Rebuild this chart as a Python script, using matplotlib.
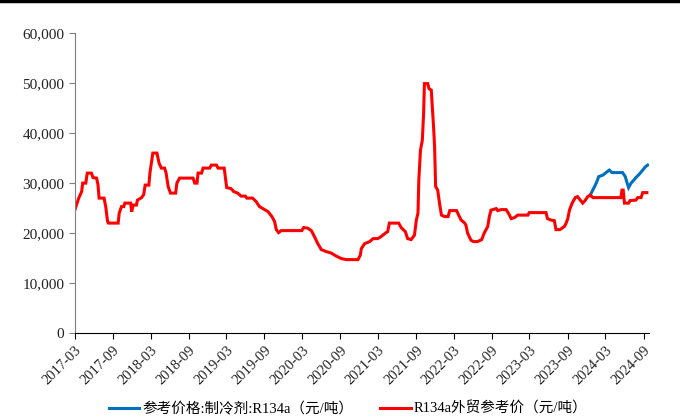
import matplotlib
matplotlib.use("Agg")
import matplotlib.pyplot as plt
import matplotlib.dates as mdates
from matplotlib.lines import Line2D
import pandas as pd

# R134a export reference price (yuan/ton)
red_dates = [
    "2017-03-01", "2017-03-09", "2017-03-20", "2017-04-03", "2017-04-08", "2017-04-23",
    "2017-04-30", "2017-05-20", "2017-05-28", "2017-06-14", "2017-06-21", "2017-06-26",
    "2017-07-20", "2017-07-28", "2017-08-06", "2017-08-10", "2017-09-26", "2017-10-01",
    "2017-10-12", "2017-10-23", "2017-10-28", "2017-11-25", "2017-11-30", "2017-12-07",
    "2017-12-23", "2017-12-28", "2018-01-17", "2018-01-27", "2018-02-03", "2018-02-21",
    "2018-02-26", "2018-03-05", "2018-03-12", "2018-04-01", "2018-04-11", "2018-04-22",
    "2018-05-08", "2018-05-15", "2018-05-25", "2018-06-05", "2018-06-30", "2018-07-06",
    "2018-07-19", "2018-09-22", "2018-09-30", "2018-10-11", "2018-10-16", "2018-11-02",
    "2018-11-09", "2018-12-11", "2018-12-19", "2019-01-13", "2019-01-20", "2019-02-19",
    "2019-02-25", "2019-03-03", "2019-03-24", "2019-04-06", "2019-04-25", "2019-05-11",
    "2019-06-01", "2019-06-08", "2019-07-06", "2019-07-23", "2019-08-08", "2019-09-02",
    "2019-09-18", "2019-10-07", "2019-10-20", "2019-10-28", "2019-11-08", "2019-11-21",
    "2020-02-28", "2020-03-08", "2020-03-27", "2020-04-14", "2020-04-29", "2020-05-15",
    "2020-06-01", "2020-06-25", "2020-07-19", "2020-08-12", "2020-09-06", "2020-09-30",
    "2020-11-25", "2020-12-06", "2020-12-11", "2020-12-27", "2021-01-20", "2021-02-06",
    "2021-02-28", "2021-03-16", "2021-04-06", "2021-04-17", "2021-04-25", "2021-06-09",
    "2021-06-21", "2021-07-11", "2021-07-22", "2021-08-08", "2021-08-24", "2021-09-02",
    "2021-09-10", "2021-09-14", "2021-09-22", "2021-10-01", "2021-10-07", "2021-10-11",
    "2021-10-27", "2021-11-02", "2021-11-13", "2021-11-18", "2021-11-24", "2021-11-29",
    "2021-12-04", "2021-12-14", "2021-12-23", "2022-01-01", "2022-01-17", "2022-02-02",
    "2022-02-10", "2022-03-15", "2022-03-25", "2022-04-06", "2022-04-21", "2022-04-29",
    "2022-05-07", "2022-05-23", "2022-06-04", "2022-06-24", "2022-07-14", "2022-07-26",
    "2022-08-12", "2022-08-20", "2022-08-28", "2022-09-22", "2022-09-29", "2022-10-16",
    "2022-11-09", "2022-11-25", "2022-12-03", "2022-12-19", "2023-01-04", "2023-02-22",
    "2023-02-28", "2023-05-20", "2023-05-27", "2023-06-13", "2023-06-29", "2023-07-07",
    "2023-07-26", "2023-08-16", "2023-08-24", "2023-09-02", "2023-09-10", "2023-09-23",
    "2023-10-08", "2023-10-19", "2023-11-01", "2023-11-13", "2023-11-26", "2023-12-07",
    "2023-12-19", "2024-01-01", "2024-05-15", "2024-05-20", "2024-05-26", "2024-06-01",
    "2024-06-21", "2024-06-28", "2024-07-26", "2024-08-04", "2024-08-20", "2024-08-28",
    "2024-09-17",
]
red_values = [
    24600, 25600, 27000, 28300, 30000, 30000,
    32000, 32000, 31100, 31000, 29600, 27000,
    27000, 25300, 22300, 22000, 22000, 24000,
    25300, 25300, 26000, 26000, 24300, 25600,
    25600, 26600, 27100, 27700, 29600, 29600,
    32000, 34000, 36000, 36000, 34000, 33000,
    33000, 32000, 29300, 28000, 28000, 30000,
    31000, 31000, 30000, 30000, 32000, 32000,
    33000, 33000, 33600, 33600, 33000, 33000,
    31000, 29100, 28900, 28300, 28000, 27400,
    27400, 27000, 27000, 26300, 25300, 24700,
    24300, 23300, 22300, 20700, 20100, 20500,
    20500, 21100, 21000, 20500, 19300, 17900,
    16700, 16300, 16000, 15400, 14900, 14700,
    14700, 15600, 16900, 17900, 18300, 18900,
    18900, 19300, 20000, 20300, 22000, 22000,
    21100, 20300, 18900, 18700, 19600, 22600,
    24000, 30600, 36600, 38600, 43900, 49900,
    49900, 48900, 48600, 45300, 41300, 37300,
    29300, 28600, 25900, 23600, 23300, 23300,
    24500, 24500, 23600, 22600, 22100, 21600,
    20000, 18600, 18300, 18300, 18700, 20000,
    21300, 23300, 24600, 24900, 24500, 24700,
    24700, 23600, 22900, 23100, 23600, 23600,
    24100, 24100, 22900, 22600, 22500, 20700,
    20700, 21300, 21900, 22900, 24600, 26000,
    27100, 27300, 26600, 26000, 26600, 27300,
    27600, 27100, 27100, 28600, 28600, 26000,
    26000, 26500, 26600, 27100, 27100, 28100,
    28100,
]

# reference price: refrigerant R134a (yuan/ton), where it parts from the red line
blue_dates = [
    "2023-12-19", "2024-01-09", "2024-01-20", "2024-01-29", "2024-02-18", "2024-03-04",
    "2024-03-20", "2024-04-02", "2024-05-23", "2024-06-05", "2024-06-14", "2024-06-21",
    "2024-07-03", "2024-07-14", "2024-07-26", "2024-08-12", "2024-08-28", "2024-09-11",
    "2024-09-21",
]
blue_values = [
    27600, 29300, 30300, 31300, 31600, 32100,
    32600, 32100, 32100, 31300, 30000, 29100,
    30000, 30500, 31100, 31800, 32600, 33300,
    33600,
]

blue_label = "参考价格:制冷剂:R134a（元/吨）"
red_label = "R134a外贸参考价（元/吨）"

plt.rcParams["font.family"] = ["Liberation Serif", "Noto Sans CJK SC"]

fig = plt.figure(figsize=(6.8, 4.19), dpi=100)
ax = fig.add_axes([0.110, 0.205, 0.844, 0.716])

ax.plot(pd.to_datetime(blue_dates), blue_values, color="#0070C0", lw=2.2,
        label=blue_label, solid_joinstyle="miter")
ax.plot(pd.to_datetime(red_dates), red_values, color="#FF0000", lw=2.2,
        label=red_label, solid_joinstyle="miter")

ax.set_ylim(0, 60000)
ax.set_yticks(range(0, 60001, 10000))
ax.yaxis.set_major_formatter(plt.FuncFormatter(lambda v, _: f"{int(v):,}"))

ax.set_xlim(pd.Timestamp("2017-03-01"), pd.Timestamp("2024-09-26"))
ax.set_xticks(pd.date_range("2017-03-01", "2024-09-01", freq="6MS"))
ax.xaxis.set_major_formatter(mdates.DateFormatter("%Y-%m"))
for lbl in ax.get_xticklabels():
    lbl.set_rotation(45)
    lbl.set_ha("right")
    lbl.set_rotation_mode("anchor")

ax.spines["top"].set_visible(False)
ax.spines["right"].set_visible(False)
ax.spines["left"].set_color("#7f7f7f")
ax.spines["bottom"].set_color("black")
ax.tick_params(axis="y", direction="out", length=4, color="#7f7f7f",
               labelsize=11, labelcolor="#222222")
ax.tick_params(axis="x", direction="out", length=4, color="black",
               labelsize=10.5, labelcolor="#222222")

fig.legend(loc="center", bbox_to_anchor=(0.512, 0.024), ncol=2, frameon=False,
           fontsize=10.5, handlelength=2.1, handletextpad=0.2, columnspacing=1.85)

# thick rule across the top of the figure
fig.add_artist(Line2D([0, 1], [0.997, 0.997], transform=fig.transFigure,
                      color="black", lw=2.5))

fig.savefig("out.png", dpi=100)
